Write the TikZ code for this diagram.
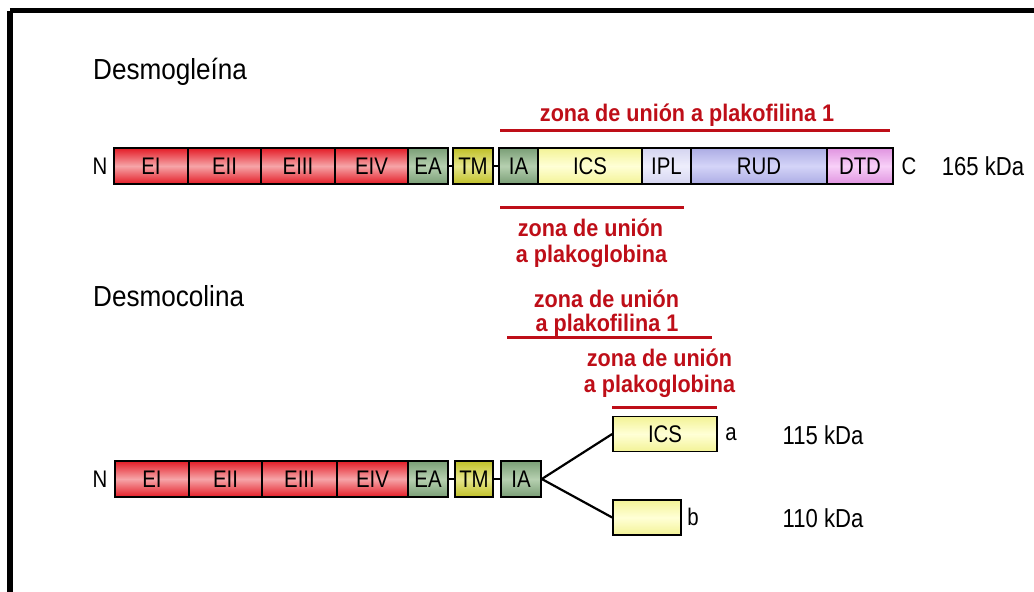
\documentclass[tikz,border=0pt]{standalone}
\usepackage{fontspec}
\setmainfont{Liberation Sans}[FakeStretch=0.9]
\newfontfamily\narrowsf{Liberation Sans}[FakeStretch=0.85]
\definecolor{redD}{RGB}{228,28,38}
\definecolor{redL}{RGB}{246,165,168}
\definecolor{grnD}{RGB}{122,158,118}
\definecolor{grnL}{RGB}{182,208,176}
\definecolor{tmD}{RGB}{192,192,40}
\definecolor{tmL}{RGB}{230,230,140}
\definecolor{icsD}{RGB}{243,243,150}
\definecolor{icsL}{RGB}{255,255,214}
\definecolor{iplD}{RGB}{212,212,240}
\definecolor{iplL}{RGB}{238,238,252}
\definecolor{rudD}{RGB}{172,172,228}
\definecolor{rudL}{RGB}{212,212,248}
\definecolor{dtdD}{RGB}{224,148,224}
\definecolor{dtdL}{RGB}{248,208,248}
\definecolor{zoneRed}{RGB}{190,14,24}
\tikzset{
  seg/.style={draw=black, line width=1.6pt, inner sep=0pt, minimum height=36pt,
    font=\narrowsf\fontsize{24}{26}\selectfont},
  redseg/.style={seg, top color=redD, bottom color=redD, middle color=redL},
  grnseg/.style={seg, top color=grnD, bottom color=grnD, middle color=grnL},
  tmseg/.style={seg, top color=tmD, bottom color=tmD, middle color=tmL},
  icsseg/.style={seg, top color=icsD, bottom color=icsD, middle color=icsL},
  iplseg/.style={seg, top color=iplD, bottom color=iplD, middle color=iplL},
  rudseg/.style={seg, top color=rudD, bottom color=rudD, middle color=rudL},
  dtdseg/.style={seg, top color=dtdD, bottom color=dtdD, middle color=dtdL},
  link/.style={draw=black, line width=1.6pt},
  branch/.style={draw=black, line width=2.2pt},
  lbl/.style={inner sep=0pt, font=\narrowsf\fontsize{24}{26}\selectfont},
  mass/.style={inner sep=0pt, font=\narrowsf\fontsize{26}{28}\selectfont},
  title/.style={inner sep=0pt, anchor=base west, font=\fontsize{29}{32}\selectfont},
  zonetext/.style={inner sep=0pt, anchor=base, text=zoneRed,
    font=\bfseries\fontsize{24}{26}\selectfont},
  zone/.style={draw=zoneRed, line width=3pt},
}
\begin{document}
\begin{tikzpicture}[x=1pt, y=-1pt]
\useasboundingbox (0,0) rectangle (1034,592);
% outer frame (continues past the right and bottom edges)
\draw[line width=5.5pt] (9.8,10.5) -- (1050,10.5);
\draw[line width=5.5pt] (9.8,10.5) -- (9.8,610);

% ---------- Desmogleína ----------
\node[title] (tDsg) at (93,79) {Desmogleína};

\node[redseg, minimum width=74pt] (gEI)   at (151,166)   {EI};
\node[redseg, minimum width=73pt] (gEII)  at (224.5,166) {EII};
\node[redseg, minimum width=74pt] (gEIII) at (298,166)   {EIII};
\node[redseg, minimum width=73pt] (gEIV)  at (371.5,166) {EIV};
\node[grnseg, minimum width=40pt] (gEA)   at (428,166)   {EA};
\node[tmseg,  minimum width=40pt] (gTM)   at (473,166)   {TM};
\node[grnseg, minimum width=39pt] (gIA)   at (518.5,166) {IA};
\node[icsseg, minimum width=104pt] (gICS) at (590,166)   {ICS};
\node[iplseg, minimum width=49pt] (gIPL)  at (666.5,166) {IPL};
\node[rudseg, minimum width=136pt] (gRUD) at (759,166)   {RUD};
\node[dtdseg, minimum width=66pt] (gDTD)  at (860,166)   {DTD};
\draw[link] (gEA.east) -- (gTM.west);
\draw[link] (gTM.east) -- (gIA.west);

\node[lbl]  (gN)    at (100,166) {N};
\node[lbl]  (gC)    at (909,166) {C};
\node[mass] (gMass) at (983,166) {165 kDa};

% binding zones of desmoglein
\node[zonetext] (gPkp) at (687,121) {zona de unión a plakofilina 1};
\draw[zone] (500,130) -- (890,130);
\draw[zone] (500,207) -- (684,207);
\node[zonetext] (gPg1) at (590.5,236) {zona de unión};
\node[zonetext] (gPg2) at (591.5,262) {a plakoglobina};

% ---------- Desmocolina ----------
\node[title] (tDsc) at (93,306) {Desmocolina};

\node[zonetext] (cPkp1) at (606.5,307) {zona de unión};
\node[zonetext] (cPkp2) at (607,331) {a plakofilina 1};
\draw[zone] (507,337) -- (712,337);
\node[zonetext] (cPg1) at (659.5,366) {zona de unión};
\node[zonetext] (cPg2) at (659.5,392) {a plakoglobina};
\draw[zone] (612,407) -- (717,407);

\node[redseg, minimum width=74pt] (cEI)   at (152,479)   {EI};
\node[redseg, minimum width=73pt] (cEII)  at (225.5,479) {EII};
\node[redseg, minimum width=75pt] (cEIII) at (299.5,479) {EIII};
\node[redseg, minimum width=71pt] (cEIV)  at (372.5,479) {EIV};
\node[grnseg, minimum width=40pt] (cEA)   at (428,479)   {EA};
\node[tmseg,  minimum width=38pt] (cTM)   at (474,479)   {TM};
\node[grnseg, minimum width=40pt] (cIA)   at (521,479)   {IA};
\draw[link] (cEA.east) -- (cTM.west);
\draw[link] (cTM.east) -- (cIA.west);

\node[icsseg, minimum width=104pt, minimum height=35pt] (cA) at (665,434) {ICS};
\node[icsseg, minimum width=68pt, minimum height=35pt]  (cB) at (647,517.5) {};
\draw[branch] (cIA.east) -- (cA.west);
\draw[branch] (cIA.east) -- (cB.west);

\node[lbl]  (cN)  at (100,479) {N};
\node[lbl]  (cAl) at (731,434) {a};
\node[lbl]  (cBl) at (693,517) {b};
\node[mass] (cAm) at (823,435) {115 kDa};
\node[mass] (cBm) at (823,518) {110 kDa};
\end{tikzpicture}
\end{document}
